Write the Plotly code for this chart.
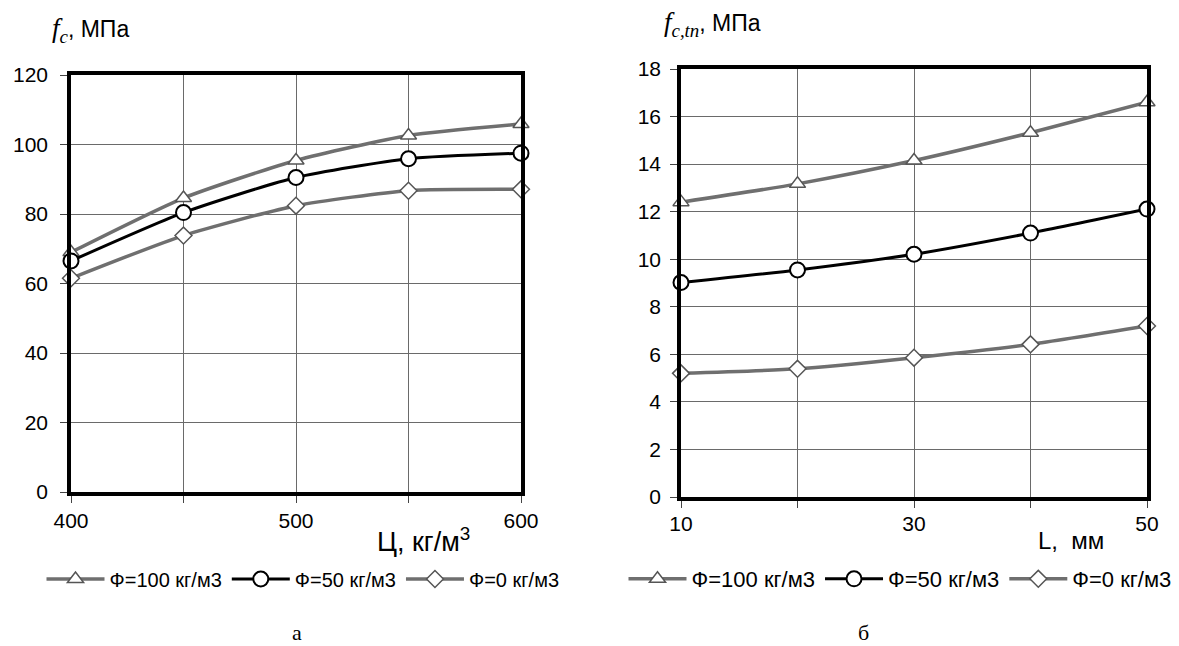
import plotly.graph_objects as go

# Left chart (а)
cement = [400, 450, 500, 550, 600]
a_phi100 = [69.0, 84.6, 95.4, 102.6, 105.9]
a_phi50 = [66.5, 80.4, 90.5, 95.9, 97.5]
a_phi0 = [61.5, 73.8, 82.4, 86.7, 87.1]
a_xticks = [400, 500, 600]
a_xminor = [450, 550]
a_yticks = [0, 20, 40, 60, 80, 100, 120]

# Right chart (б)
length = [10, 20, 30, 40, 50]
b_phi100 = [12.4, 13.17, 14.15, 15.32, 16.6]
b_phi50 = [9.02, 9.55, 10.21, 11.1, 12.11]
b_phi0 = [5.2, 5.39, 5.86, 6.42, 7.19]
b_xticks = [10, 30, 50]
b_xminor = [20, 40]
b_yticks = [0, 2, 4, 6, 8, 10, 12, 14, 16, 18]

names = ["Ф=100 кг/м3", "Ф=50 кг/м3", "Ф=0 кг/м3"]

GRAY = "#6f6f6f"
GRID = "#6a6a6a"
FONT = "Liberation Sans, Arial, sans-serif"
SERIF = "Liberation Serif, Times New Roman, serif"

fig = go.Figure()

styles = [
    dict(line=dict(color=GRAY, width=3.5, shape="spline", smoothing=0.6),
         marker=dict(symbol="triangle-up", size=14, color="white",
                     line=dict(color="#555555", width=1.5))),
    dict(line=dict(color="black", width=3, shape="spline", smoothing=0.6),
         marker=dict(symbol="circle", size=15, color="white",
                     line=dict(color="black", width=2))),
    dict(line=dict(color=GRAY, width=3.5, shape="spline", smoothing=0.6),
         marker=dict(symbol="diamond", size=13, color="white",
                     line=dict(color="#555555", width=1.5))),
]

for ys, nm, st in zip([a_phi100, a_phi50, a_phi0], names, styles):
    fig.add_trace(go.Scatter(x=cement, y=ys, name=nm, mode="lines+markers",
                             xaxis="x", yaxis="y", legend="legend",
                             cliponaxis=False, **st))
for ys, nm, st in zip([b_phi100, b_phi50, b_phi0], names, styles):
    fig.add_trace(go.Scatter(x=length, y=ys, name=nm, mode="lines+markers",
                             xaxis="x2", yaxis="y2", legend="legend2",
                             cliponaxis=False, **st))

W, H = 1179, 646
def dx(px):
    return px / W
def dy(py):
    return 1 - py / H

axis_common = dict(showline=True, linecolor="black", linewidth=3.5, mirror=True,
                   showgrid=True, gridcolor=GRID, gridwidth=1,
                   ticks="outside", ticklen=7, tickcolor="#444444", tickwidth=1,
                   zeroline=False, automargin=False,
                   tickfont=dict(family=FONT, size=21, color="black"))
minor_common = dict(ticks="outside", ticklen=7, tickcolor="#444444", tickwidth=1,
                    showgrid=True, gridcolor=GRID, gridwidth=1)

fig.update_layout(
    width=W, height=H, margin=dict(l=0, r=0, t=0, b=0, autoexpand=False),
    paper_bgcolor="white", plot_bgcolor="white",
    showlegend=True,
    xaxis=dict(domain=[dx(71), dx(521)], range=[400, 600], tickvals=a_xticks,
               minor=dict(tickvals=a_xminor, **minor_common),
               anchor="y", ticklabelstandoff=0, **axis_common),
    yaxis=dict(domain=[dy(492), dy(75)], range=[0, 120], tickvals=a_yticks,
               anchor="x", ticklabelstandoff=8, **axis_common),
    xaxis2=dict(domain=[dx(681), dx(1147)], range=[10, 50], tickvals=b_xticks,
                minor=dict(tickvals=b_xminor, **minor_common),
                anchor="y2", ticklabelstandoff=-2, **axis_common),
    yaxis2=dict(domain=[dy(497), dy(69)], range=[0, 18], tickvals=b_yticks,
                anchor="x2", ticklabelstandoff=5, **axis_common),
    legend=dict(orientation="h", x=dx(303), y=dy(579), xanchor="center", yanchor="middle",
                font=dict(family=FONT, size=20, color="black"), itemwidth=58,
                bgcolor="rgba(0,0,0,0)", tracegroupgap=0),
    legend2=dict(orientation="h", x=dx(900), y=dy(579), xanchor="center", yanchor="middle",
                 font=dict(family=FONT, size=22, color="black"), itemwidth=58,
                 bgcolor="rgba(0,0,0,0)", tracegroupgap=0),
    annotations=[
        dict(text="<span style=\"font-family:Liberation Serif;font-style:italic;font-size:27px\">f<sub>c</sub></span>, МПа",
             x=dx(50), y=dy(30), xref="paper", yref="paper", xanchor="left", yanchor="middle",
             showarrow=False, font=dict(family=FONT, size=23, color="black")),
        dict(text="<span style=\"font-family:Liberation Serif;font-style:italic;font-size:27px\">f<sub>c,tn</sub></span>, МПа",
             x=dx(662), y=dy(24), xref="paper", yref="paper", xanchor="left", yanchor="middle",
             showarrow=False, font=dict(family=FONT, size=23, color="black")),
        dict(text="Ц, кг/м<sup>3</sup>",
             x=dx(423), y=dy(540), xref="paper", yref="paper", xanchor="center", yanchor="middle",
             showarrow=False, font=dict(family=FONT, size=27, color="black")),
        dict(text="L,  мм",
             x=dx(1071), y=dy(540), xref="paper", yref="paper", xanchor="center", yanchor="middle",
             showarrow=False, font=dict(family=FONT, size=24, color="black")),
        dict(text="а", x=dx(297), y=dy(632), xref="paper", yref="paper",
             xanchor="center", yanchor="middle", showarrow=False,
             font=dict(family=SERIF, size=22, color="black")),
        dict(text="б", x=dx(863), y=dy(632), xref="paper", yref="paper",
             xanchor="center", yanchor="middle", showarrow=False,
             font=dict(family=SERIF, size=22, color="black")),
    ],
)

fig.write_html("out.html", post_script="document.body.style.margin='0';",
               config={"displayModeBar": False})
